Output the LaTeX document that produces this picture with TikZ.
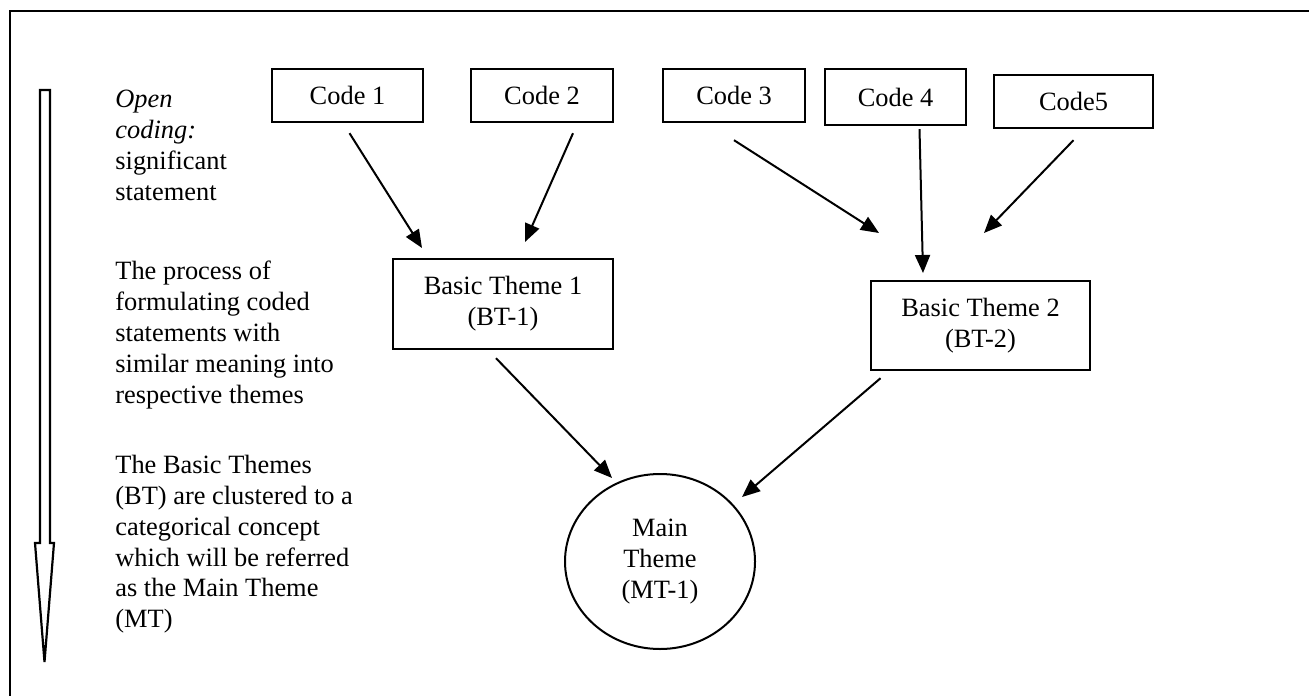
\documentclass[tikz,border=0pt]{standalone}
\usepackage{fontspec}
\setmainfont{Liberation Serif}
\usetikzlibrary{arrows.meta,positioning,shapes.geometric}
\newcommand{\diagfont}{\fontsize{13.2}{15.4}\selectfont}
\tikzset{
  codebox/.style={draw,line width=1.2pt,rectangle,inner sep=0pt,minimum height=26.5pt,font=\diagfont},
  themebox/.style={draw,line width=1.2pt,rectangle,inner sep=0pt,align=center,minimum width=110pt,minimum height=45pt,font=\diagfont},
  mainnode/.style={draw,line width=1pt,ellipse,inner sep=0pt,align=center,minimum width=95pt,minimum height=87.5pt,font=\diagfont},
  note/.style={anchor=north west,align=left,inner sep=0pt,font=\diagfont},
  flow/.style={line width=1pt,-{Triangle[length=9pt,width=7.5pt]}}
}

\begin{document}
\begin{tikzpicture}[x=0.5pt,y=-0.5pt]
  \useasboundingbox (0,0) rectangle (1309,695);
  % frame and downward process arrow
  \draw[line width=1pt] (10,700) -- (10,11) -- (1315,11);
  \draw[line width=1.1pt,line join=miter] (40,90) -- (50,90) -- (50,543) -- (54,543) -- (44.5,662) -- (35,543) -- (40,543) -- cycle;
  % notes on the left
  \node[note] (step1) at (115,90) {\textit{Open}\\\textit{coding:}\\significant\\statement};
  \node[note] (step2) at (115,261) {The process of\\formulating coded\\statements with\\similar meaning into\\respective themes};
  \node[note] (step3) at (115,455) {The Basic Themes\\(BT) are clustered to a\\categorical concept\\which will be referred\\as the Main Theme\\(MT)};
  % codes
  \node[codebox,minimum width=75.5pt] (code1) at (347.5,95.5) {Code 1};
  \node[codebox,minimum width=71pt] (code2) at (542,95.5) {Code 2};
  \node[codebox,minimum width=71pt] (code3) at (734,95.5) {Code 3};
  \node[codebox,minimum width=70.5pt,minimum height=28pt] (code4) at (895.5,97) {Code 4};
  \node[codebox,minimum width=79.5pt] (code5) at (1073.5,101.5) {Code5};
  % themes
  \node[themebox] (bt1) at (503,304) {Basic Theme 1\\(BT-1)};
  \node[themebox,minimum width=109.5pt,minimum height=44.5pt] (bt2) at (980.5,325.5) {Basic Theme 2\\(BT-2)};
  \node[mainnode] (mt) at (660,561.5) {Main\\Theme\\(MT-1)};
  % arrow tips
  \coordinate (t1) at (422,248); \coordinate (t2) at (525,242);
  \coordinate (t3) at (879,233); \coordinate (t4) at (923,273);
  \coordinate (t5) at (984,233); \coordinate (t6) at (612,478);
  \coordinate (t7) at (742,497);
  \draw[flow] ([shift={(2,10)}]code1.south) -- (t1);
  \draw[flow] ([shift={(31,10)}]code2.south) -- (t2);
  \draw[flow] ([shift={(0,17)}]code3.south) -- (t3);
  \draw[flow] ([shift={(24,3)}]code4.south) -- (t4);
  \draw[flow] ([shift={(0,11)}]code5.south) -- (t5);
  \draw[flow] ([shift={(-7,8)}]bt1.south) -- (t6);
  \draw[flow] ([shift={(-100,7)}]bt2.south) -- (t7);
\end{tikzpicture}
\end{document}
